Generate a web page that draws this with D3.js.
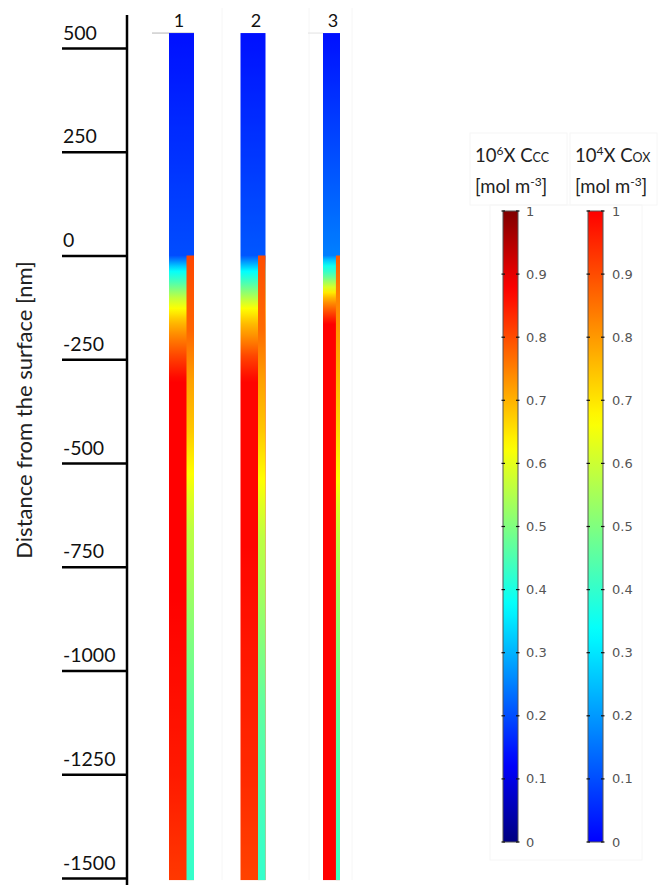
<!DOCTYPE html>
<html>
<head>
<meta charset="utf-8">
<script src="https://cdn.jsdelivr.net/npm/d3@7"></script>
<style>
  html, body { margin: 0; padding: 0; background: #fff; }
  svg { display: block; }
</style>
</head>
<body>
<svg id="chart" width="660" height="885"></svg>
<script>
// ---------------- DATA ----------------
const columns = ["1", "2", "3"];
const depthTicks = [500, 250, 0, -250, -500, -750, -1000, -1250, -1500];
const legendTicks = [0, 0.1, 0.2, 0.3, 0.4, 0.5, 0.6, 0.7, 0.8, 0.9, 1];

// 10^6 x C_cc (normalised), jet colour map; depth in nm (above surface included)
const ccDepth1 = [536, 0, -5, -36, -60, -101, -128, -157, -198, -246, -301, -800, -1000, -1250, -1505];
const ccValue1 = [0.14, 0.2, 0.22, 0.375, 0.437, 0.563, 0.625, 0.687, 0.75, 0.812, 0.875, 0.875, 0.865, 0.85, 0.82];
const ccDepth2 = [536, 0, -5, -38, -62, -101, -128, -163, -205, -246, -301, -700, -1000, -1250, -1505];
const ccValue2 = [0.14, 0.21, 0.23, 0.375, 0.437, 0.55, 0.625, 0.69, 0.75, 0.812, 0.87, 0.87, 0.85, 0.835, 0.81];
const ccDepth3 = [536, 0, -5, -19, -43, -84, -108, -140, -164, -1505];
const ccValue3 = [0.14, 0.25, 0.27, 0.375, 0.437, 0.625, 0.72, 0.812, 0.875, 0.875];

// 10^4 x C_ox (normalised), rainbow colour map; below the surface only
const oxDepth1 = [0, -180, -300, -420, -525, -580, -660, -780, -930, -1065, -1185, -1350, -1505];
const oxValue1 = [0.91, 0.87, 0.79, 0.74, 0.667, 0.626, 0.58, 0.55, 0.5, 0.46, 0.44, 0.42, 0.40];
const oxDepth2 = [0, -180, -300, -420, -540, -600, -680, -800, -950, -1080, -1200, -1350, -1505];
const oxValue2 = [0.9, 0.86, 0.79, 0.74, 0.667, 0.626, 0.58, 0.55, 0.5, 0.46, 0.44, 0.42, 0.40];
const oxDepth3 = [0, -100, -250, -420, -540, -600, -680, -800, -950, -1080, -1200, -1505];
const oxValue3 = [0.88, 0.83, 0.78, 0.72, 0.667, 0.62, 0.58, 0.54, 0.5, 0.46, 0.44, 0.41];

const ccProfiles = [[ccDepth1, ccValue1], [ccDepth2, ccValue2], [ccDepth3, ccValue3]];
const oxProfiles = [[oxDepth1, oxValue1], [oxDepth2, oxValue2], [oxDepth3, oxValue3]];

// ---------------- LAYOUT ----------------
const layout = {
  colLeft:   [169, 240.5, 323],
  colRight:  [194, 265.5, 340],
  stripeFrac:[0.7, 0.7, 0.76],   // fraction of column width where the C_ox stripe begins
  labelX:    [179, 256, 333]
};
const topDepth = 536, bottomDepth = -1505;

const svg = d3.select("#chart");
const defs = svg.append("defs");

const y = d3.scaleLinear().domain([500, -1500]).range([48, 878]);

const jet = d3.scaleLinear()
  .domain([0, 0.125, 0.375, 0.625, 0.875, 1])
  .range(["#000080", "#0000ff", "#00ffff", "#ffff00", "#ff0000", "#800000"])
  .clamp(true);
const rainbow = d3.scaleLinear()
  .domain([0, 1 / 3, 2 / 3, 1])
  .range(["#0000ff", "#00ffff", "#ffff00", "#ff0000"])
  .clamp(true);

function profileGradient(id, depths, values, cmap) {
  const prof = d3.scaleLinear().domain(depths).range(values).clamp(true);
  const d0 = d3.max(depths), d1 = d3.min(depths);
  const g = defs.append("linearGradient").attr("id", id)
    .attr("gradientUnits", "userSpaceOnUse")
    .attr("x1", 0).attr("x2", 0).attr("y1", y(d0)).attr("y2", y(d1));
  const n = 160;
  d3.range(n + 1).forEach(i => {
    const d = d0 + (d1 - d0) * i / n;
    g.append("stop").attr("offset", i / n).attr("stop-color", cmap(prof(d)));
  });
}

// faint panel borders (from the original composite)
const faint = svg.append("g").attr("stroke", "#f6f6f6").attr("stroke-width", 1).attr("fill", "none");
[222, 309, 352].forEach(xx => faint.append("line").attr("x1", xx).attr("x2", xx).attr("y1", 8).attr("y2", 880));
faint.append("rect").attr("x", 470).attr("y", 133).attr("width", 97).attr("height", 72);
faint.append("rect").attr("x", 570).attr("y", 133).attr("width", 87).attr("height", 72);
faint.append("rect").attr("x", 490).attr("y", 205).attr("width", 152).attr("height", 655);

// top grey lines
svg.append("line").attr("x1", 152).attr("x2", 194).attr("y1", y(topDepth)).attr("y2", y(topDepth))
  .attr("stroke", "#b5b5b5").attr("stroke-width", 1);
svg.append("line").attr("x1", 308).attr("x2", 323).attr("y1", y(topDepth)).attr("y2", y(topDepth))
  .attr("stroke", "#e2e2e2").attr("stroke-width", 1);

// columns
columns.forEach((c, i) => {
  const xs = d3.scaleLinear().domain([0, 1]).range([layout.colLeft[i], layout.colRight[i]]);
  profileGradient("cc" + i, ccProfiles[i][0], ccProfiles[i][1], jet);
  profileGradient("ox" + i, oxProfiles[i][0], oxProfiles[i][1], rainbow);
  svg.append("rect")
    .attr("x", xs(0)).attr("width", xs(1) - xs(0))
    .attr("y", y(topDepth)).attr("height", y(bottomDepth) - y(topDepth))
    .attr("fill", `url(#cc${i})`);
  const od = oxProfiles[i][0];
  svg.append("rect")
    .attr("x", xs(layout.stripeFrac[i])).attr("width", xs(1) - xs(layout.stripeFrac[i]))
    .attr("y", y(d3.max(od))).attr("height", y(d3.min(od)) - y(d3.max(od)))
    .attr("fill", `url(#ox${i})`);
  svg.append("text")
    .attr("x", layout.labelX[i]).attr("y", 27)
    .attr("text-anchor", "middle")
    .attr("font-family", "Lato, 'Open Sans', sans-serif").attr("font-size", 18)
    .attr("fill", "#111").text(c);
});

// y axis
const axisG = svg.append("g").attr("transform", "translate(127,0)");
axisG.call(d3.axisLeft(y).tickValues(depthTicks).tickSize(65).tickFormat(d => d));
axisG.select(".domain").remove();
axisG.selectAll(".tick line").attr("stroke", "#000").attr("stroke-width", 2.5);
axisG.selectAll(".tick text")
  .attr("x", -64).attr("dy", "-9").attr("y", 0)
  .attr("text-anchor", "start")
  .attr("font-family", "Lato, 'Open Sans', sans-serif").attr("font-size", 19.5)
  .attr("fill", "#111");
axisG.append("line").attr("x1", 0).attr("x2", 0).attr("y1", 15).attr("y2", 885)
  .attr("stroke", "#000").attr("stroke-width", 2.5);

svg.append("text")
  .attr("transform", "translate(32,410) rotate(-90)")
  .attr("text-anchor", "middle")
  .attr("font-family", "Lato, 'Open Sans', sans-serif").attr("font-size", 22)
  .attr("fill", "#222")
  .text("Distance from the surface [nm]");

// legends
const lg = d3.scaleLinear().domain([0, 1]).range([842, 211]);
const legends = [
  { x: 503, cmap: jet, id: "lgcc", exp: "6", sub: "CC", tx: 475, lx: 526 },
  { x: 588, cmap: rainbow, id: "lgox", exp: "4", sub: "OX", tx: 575, lx: 612 }
];
legends.forEach(L => {
  const g = defs.append("linearGradient").attr("id", L.id)
    .attr("gradientUnits", "userSpaceOnUse")
    .attr("x1", 0).attr("x2", 0).attr("y1", lg(0)).attr("y2", lg(1));
  d3.range(0, 1.0001, 0.02).forEach(v => g.append("stop").attr("offset", v).attr("stop-color", L.cmap(v)));
  svg.append("rect").attr("x", L.x).attr("y", lg(1)).attr("width", 15).attr("height", lg(0) - lg(1))
    .attr("fill", `url(#${L.id})`).attr("stroke", "#555").attr("stroke-width", 1);
  legendTicks.forEach(t => {
    svg.append("line").attr("x1", L.x - 1.5).attr("x2", L.x + 2).attr("y1", lg(t)).attr("y2", lg(t))
      .attr("stroke", "#111").attr("stroke-width", 1.2);
    svg.append("line").attr("x1", L.x + 13).attr("x2", L.x + 16.5).attr("y1", lg(t)).attr("y2", lg(t))
      .attr("stroke", "#111").attr("stroke-width", 1.2);
    svg.append("text").attr("x", L.lx).attr("y", lg(t)).attr("dy", "0.35em")
      .attr("font-family", "'DejaVu Sans', sans-serif").attr("font-size", 13)
      .attr("fill", "#555").text(d3.format("~g")(t));
  });
  const t1 = svg.append("text").attr("x", L.tx).attr("y", 162)
    .attr("font-family", "Lato, 'Open Sans', sans-serif").attr("font-size", 18.5).attr("fill", "#222");
  t1.append("tspan").text("10");
  t1.append("tspan").attr("dy", -7).attr("font-size", 12).text(L.exp);
  t1.append("tspan").attr("dy", 7).text("X C");
  t1.append("tspan").attr("font-size", 12.5).text(L.sub);
  const t2 = svg.append("text").attr("x", L.tx).attr("y", 193)
    .attr("font-family", "Lato, 'Open Sans', sans-serif").attr("font-size", 18.5).attr("fill", "#222");
  t2.append("tspan").text("[mol m");
  t2.append("tspan").attr("dy", -7).attr("font-size", 12).text("-3");
  t2.append("tspan").attr("dy", 7).text("]");
});
</script>
</body>
</html>
